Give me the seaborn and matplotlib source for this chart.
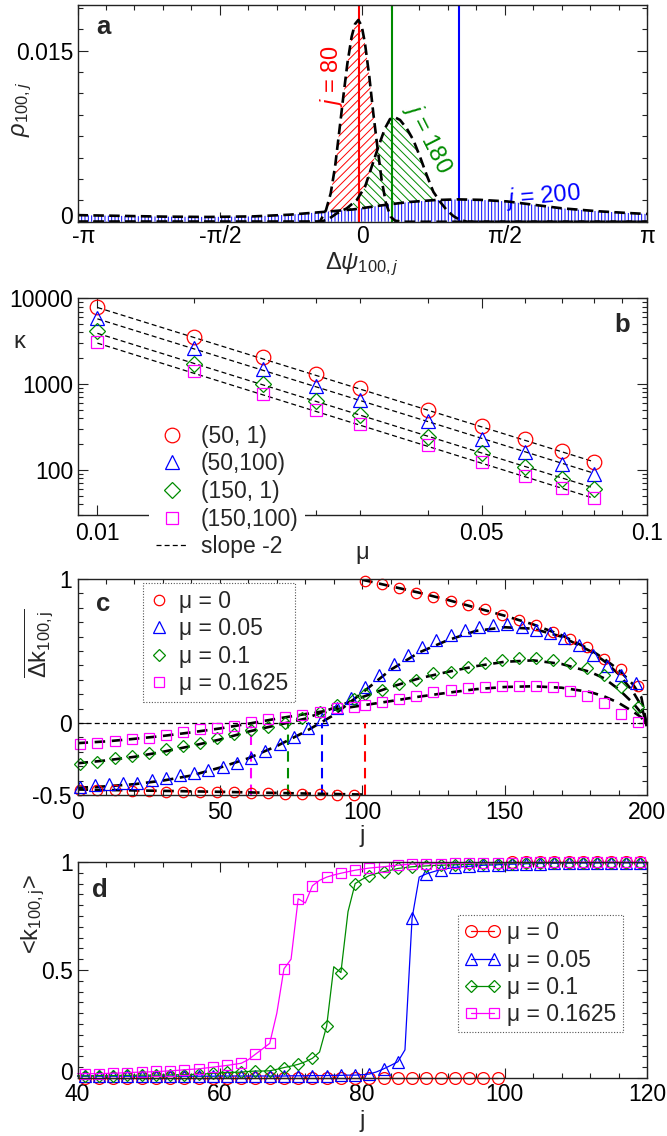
#%% Import library
import numpy as np
import seaborn as sns
from matplotlib import pyplot as plt
from matplotlib.lines import Line2D
from matplotlib.ticker import FixedLocator, MultipleLocator, NullFormatter, LogLocator
from matplotlib.transforms import ScaledTranslation

#%% Data - panel a (density of phase differences)
psi_red = [-3.1416, -0.55, -0.466, -0.400, -0.348, -0.300, -0.256, -0.209, -0.164, -0.117,
           -0.080, -0.043, -0.006, 0.030, 0.078, 0.122, 0.167, 0.214, 0.262, 0.314, 0.362,
           0.45, 3.1416]
rho_red = [0, 0, 0.00002, 0.00102, 0.00249, 0.00482, 0.00775, 0.01096, 0.01388, 0.01622,
           0.01733, 0.01769, 0.01716, 0.01564, 0.01272, 0.00950, 0.00658, 0.00365, 0.00161,
           0.00044, 0.00009, 0, 0]
psi_green = [-3.1416, -0.45, -0.36, -0.282, -0.172, -0.061, 0.031, 0.104, 0.178, 0.251,
             0.306, 0.361, 0.417, 0.490, 0.564, 0.637, 0.711, 0.784, 0.858, 0.932, 1.005,
             1.079, 1.16, 3.1416]
rho_green = [0, 0, 0.00030, 0.00073, 0.00117, 0.00190, 0.00307, 0.00482, 0.00658, 0.00819,
             0.00900, 0.00915, 0.00892, 0.00819, 0.00716, 0.00570, 0.00409, 0.00263, 0.00176,
             0.00102, 0.00050, 0.00015, 0, 0]
psi_blue = [-3.1416, -2.7, -2.2, -1.7, -1.2, -0.8, -0.4, -0.1, 0.2, 0.5, 0.8, 1.05, 1.3,
            1.6, 1.9, 2.2, 2.6, 2.9, 3.1416]
rho_blue = [0.00058, 0.00052, 0.00045, 0.00042, 0.00047, 0.00062, 0.00088, 0.00108, 0.00142,
            0.00172, 0.00190, 0.00196, 0.00192, 0.00178, 0.00148, 0.00118, 0.00092, 0.00078,
            0.00068]
psi_mean = [-0.036, 0.332, 1.067]
labels_a = ['$j$ = 80', '$j$ = 180', '$j$ = 200']

#%% Data - panel b (kappa vs mu)
mu_b = [0.01, 0.015, 0.02, 0.025, 0.03, 0.04, 0.05, 0.06, 0.07, 0.08]
kappa_50_1 = [8000, 3570, 2090, 1300, 890, 506, 327, 228, 167, 124]
kappa_50_100 = [5850, 2660, 1500, 955, 660, 373, 232, 163, 116, 89]
kappa_150_1 = [4100, 1710, 1000, 633, 434, 243, 157, 108, 79, 60]
kappa_150_100 = [3060, 1420, 777, 497, 347, 194, 124, 85, 62, 47]
mu_fit = [0.01, 0.08]
fit_50_1 = [7800, 125]
fit_50_100 = [5750, 92]
fit_150_1 = [3900, 62]
fit_150_100 = [3000, 47]
labels_b = ['(50, 1)', '(50,100)', '(150, 1)', '(150,100)', 'slope -2']

#%% Data - panel c (mean link change)
j_c_lo = [1, 7, 13, 19, 25, 31, 37, 43, 49, 55, 61, 67, 73, 79, 85, 91, 97]
j_c_hi = [101, 107, 113, 119, 125, 131, 137, 143, 149, 155, 161, 167, 173, 179, 185, 191, 197]
j_c_blue = [1, 6, 11, 16, 21, 26, 31, 36, 41, 46, 51, 56, 61, 66, 71, 76, 81, 86, 91, 96,
            101, 106, 111, 116, 121, 126, 131, 136, 141, 146, 151, 156, 161, 166, 171, 176,
            181, 186, 191, 196]
dk_mu0_lo = [-0.465, -0.465, -0.468, -0.472, -0.472, -0.477, -0.477, -0.477, -0.481, -0.481,
             -0.488, -0.488, -0.493, -0.493, -0.495, -0.497, -0.500]
dk_mu0_hi = [0.985, 0.962, 0.935, 0.905, 0.875, 0.845, 0.818, 0.79, 0.752, 0.715, 0.68,
             0.635, 0.585, 0.525, 0.445, 0.375, 0.26]
dk_mu005 = [-0.442, -0.428, -0.426, -0.419, -0.415, -0.396, -0.380, -0.361, -0.350, -0.326,
            -0.305, -0.275, -0.241, -0.195, -0.145, -0.095, -0.032, 0.028, 0.102, 0.176,
            0.252, 0.333, 0.407, 0.472, 0.530, 0.576, 0.611, 0.646, 0.669, 0.681, 0.685,
            0.665, 0.645, 0.625, 0.59, 0.545, 0.47, 0.395, 0.33, 0.28]
dk_mu01 = [-0.287, -0.273, -0.245, -0.229, -0.211, -0.181, -0.157, -0.141, -0.106, -0.079,
           -0.049, -0.025, -0.002, 0.037, 0.079, 0.125, 0.167, 0.199, 0.229, 0.269, 0.299,
           0.345, 0.356, 0.391, 0.414, 0.437, 0.45, 0.45, 0.44, 0.42, 0.385, 0.335, 0.25, 0.11]
dk_mu01625 = [-0.148, -0.141, -0.125, -0.111, -0.102, -0.083, -0.060, -0.042, -0.032, -0.019,
              0.009, 0.028, 0.044, 0.056, 0.079, 0.102, 0.113, 0.125, 0.148, 0.167, 0.19,
              0.213, 0.229, 0.241, 0.252, 0.259, 0.26, 0.26, 0.25, 0.22, 0.19, 0.14, 0.065, 0.01]
# theory curves (black dashed)
j_th = [0, 10, 20, 30, 40, 50, 60, 70, 80, 90, 100, 110, 120, 130, 140, 150, 160, 170, 180,
        185, 190, 195, 198, 200]
th_mu005 = [-0.45, -0.44, -0.425, -0.40, -0.365, -0.31, -0.245, -0.16, -0.06, 0.055, 0.21,
            0.37, 0.49, 0.575, 0.64, 0.665, 0.655, 0.60, 0.50, 0.43, 0.34, 0.22, 0.12, -0.02]
th_mu01 = [-0.28, -0.26, -0.235, -0.20, -0.16, -0.115, -0.06, -0.015, 0.03, 0.105, 0.18, 0.25,
           0.31, 0.355, 0.395, 0.425, 0.435, 0.41, 0.355, 0.31, 0.235, 0.14, 0.07, -0.02]
th_mu01625 = [-0.14, -0.128, -0.11, -0.09, -0.065, -0.038, -0.005, 0.03, 0.062, 0.092, 0.122,
              0.152, 0.183, 0.21, 0.235, 0.25, 0.255, 0.245, 0.215, 0.185, 0.14, 0.08, 0.04, -0.02]
j_th_mu0_lo = [0, 25, 50, 75, 100]
th_mu0_lo = [-0.462, -0.47, -0.478, -0.488, -0.497]
j_th_mu0_hi = [100, 110, 120, 130, 140, 150, 160, 170, 180, 185, 190, 195, 198, 200]
th_mu0_hi = [0.995, 0.95, 0.905, 0.855, 0.80, 0.745, 0.685, 0.61, 0.51, 0.445, 0.37, 0.27,
             0.18, -0.02]
j_cross = [61, 74, 86, 101]
labels_mu = ['μ = 0', 'μ = 0.05', 'μ = 0.1', 'μ = 0.1625']

#%% Data - panel d (mean link state)
j_d = np.arange(40, 121)
k_mu0_lo_j = [41, 43, 45, 47, 49, 51, 53, 55, 57, 59, 61, 63, 65, 67, 69, 71, 73, 75, 77, 79,
              81, 83, 85, 87, 89, 91, 93, 95, 97, 99]
k_mu0_lo = [0.0] * 30
k_mu0_hi_j = [101, 103, 105, 107, 109, 111, 113, 115, 117, 119]
k_mu0_hi = [1.0] * 10
k_mu005 = [0.008, 0.008, 0.008, 0.008, 0.008, 0.008, 0.008, 0.008, 0.008, 0.008,
           0.008, 0.008, 0.008, 0.008, 0.008, 0.008, 0.008, 0.008, 0.008, 0.008,
           0.009, 0.009, 0.009, 0.009, 0.009, 0.009, 0.009, 0.009, 0.009, 0.009,
           0.010, 0.010, 0.010, 0.011, 0.011, 0.011, 0.012, 0.012, 0.013, 0.013,
           0.015, 0.018, 0.028, 0.042, 0.058, 0.075, 0.130, 0.740, 0.930, 0.945,
           0.955, 0.965, 0.970, 0.975, 0.978, 0.980, 0.982, 0.985, 0.986, 0.987,
           0.990, 0.990, 0.991, 0.992, 0.993, 0.993, 0.994, 0.994, 0.995, 0.995,
           0.996, 0.996, 0.996, 0.996, 0.997, 0.997, 0.997, 0.997, 0.997, 0.997, 0.997]
k_mu01 = [0.010, 0.010, 0.010, 0.011, 0.011, 0.011, 0.012, 0.012, 0.012, 0.013,
          0.013, 0.013, 0.014, 0.014, 0.015, 0.015, 0.016, 0.017, 0.019, 0.022,
          0.024, 0.026, 0.026, 0.027, 0.030, 0.032, 0.032, 0.033, 0.040, 0.048,
          0.055, 0.063, 0.075, 0.091, 0.120, 0.240, 0.515, 0.488, 0.770, 0.900,
          0.920, 0.937, 0.947, 0.955, 0.962, 0.970, 0.974, 0.978, 0.980, 0.982,
          0.984, 0.985, 0.986, 0.987, 0.988, 0.989, 0.990, 0.991, 0.991, 0.992,
          0.993, 0.993, 0.994, 0.994, 0.995, 0.995, 0.995, 0.996, 0.996, 0.996,
          0.996, 0.997, 0.997, 0.997, 0.997, 0.997, 0.997, 0.997, 0.997, 0.997, 0.997]
k_mu01625 = [0.020, 0.020, 0.020, 0.020, 0.021, 0.022, 0.023, 0.025, 0.026, 0.027,
             0.028, 0.030, 0.031, 0.033, 0.035, 0.038, 0.040, 0.042, 0.046, 0.050,
             0.054, 0.058, 0.063, 0.068, 0.085, 0.110, 0.135, 0.160, 0.300, 0.505,
             0.550, 0.830, 0.810, 0.890, 0.915, 0.930, 0.940, 0.948, 0.955, 0.962,
             0.967, 0.972, 0.975, 0.978, 0.982, 0.985, 0.988, 0.990, 0.991, 0.992,
             0.993, 0.993, 0.994, 0.994, 0.995, 0.995, 0.996, 0.996, 0.996, 0.997,
             0.997, 0.997, 0.997, 0.998, 0.998, 0.998, 0.998, 0.998, 0.998, 0.998,
             0.999, 0.999, 0.999, 0.999, 0.999, 0.999, 0.999, 0.999, 0.999, 0.999, 0.999]

#%% Style
sns.set_theme(style='ticks')
plt.rcParams['font.family'] = ['Liberation Sans', 'DejaVu Sans']
plt.rcParams['mathtext.fontset'] = 'custom'
plt.rcParams['mathtext.rm'] = 'Liberation Sans'
plt.rcParams['mathtext.it'] = 'Liberation Sans:italic'
plt.rcParams['mathtext.bf'] = 'Liberation Sans:bold'
plt.rcParams['hatch.linewidth'] = 0.7
plt.rcParams['axes.linewidth'] = 1.0
plt.rcParams['axes.edgecolor'] = '#222222'

FS = 16.5
LFS = 17
RED, BLUE, GREEN, MAGENTA = '#ff0000', '#0000ff', '#008b00', '#ff00ff'
COLORS = [RED, BLUE, GREEN, MAGENTA]
MARKERS = ['o', '^', 'D', 's']


def style_ax(ax, xpad=3, ypad=3):
    ax.tick_params(which='both', direction='in', top=True, right=True,
                   labelsize=FS, width=0.8, colors='#222222', labelcolor='black')
    ax.tick_params(which='major', length=7)
    ax.tick_params(which='minor', length=3.5)
    ax.tick_params(axis='x', pad=xpad)
    ax.tick_params(axis='y', pad=ypad)


def shift_label(label, dx, dy):
    # nudge a tick label by (dx, dy) pixels
    label.set_transform(label.get_transform() +
                        ScaledTranslation(dx / 100, dy / 100, fig.dpi_scale_trans))


def dashed_black(ax, x, y, lw=1.8, dash=(4, 2)):
    sns.lineplot(x=x, y=y, ax=ax, color='black', lw=lw, linestyle=(0, dash),
                 zorder=4, sort=False)


def open_markers(ax, x, y, color, marker, ms, zorder=5):
    sns.lineplot(x=x, y=y, ax=ax, linestyle='none', marker=marker, markersize=ms,
                 markerfacecolor='none', markeredgecolor=color, markeredgewidth=0.9,
                 color=color, clip_on=False, zorder=zorder, sort=False)


def dotted_legend(leg):
    leg.get_frame().set_linestyle((0, (1, 1.5)))
    leg.get_frame().set_linewidth(0.8)
    leg.set_zorder(10)


fig = plt.figure(figsize=(6.67, 11.36), dpi=100)
L, W = 0.1162, 0.8538
ax_a = fig.add_axes([L, 0.8048, W, 0.1908])
ax_b = fig.add_axes([L, 0.5467, W, 0.1908])
ax_c = fig.add_axes([L, 0.3002, W, 0.1901])
ax_d = fig.add_axes([L, 0.0511, W, 0.1901])

#%% Panel a
hatches = ['////', '\\\\\\\\', '|||||']
curves = [(psi_red, rho_red), (psi_green, rho_green), (psi_blue, rho_blue)]
colors_a = [RED, GREEN, BLUE]
for (px_, py_), c, h in zip(curves, colors_a, hatches):
    ax_a.fill_between(px_, 0, py_, facecolor='white', edgecolor=c, hatch=h, linewidth=0,
                      zorder=2)
for m, c in zip(psi_mean, colors_a):
    ax_a.axvline(m, color=c, lw=1.5, zorder=3)
for px_, py_ in curves:
    dashed_black(ax_a, px_, py_, lw=1.9, dash=(4, 2))

ax_a.text(-0.337, 0.01277, labels_a[0], color=RED, fontsize=LFS, rotation=90,
          ha='center', va='center')
ax_a.text(0.725, 0.00734, labels_a[1], color=GREEN, fontsize=LFS, rotation=-63,
          ha='center', va='center', rotation_mode='anchor')
ax_a.text(1.994, 0.00225, labels_a[2], color=BLUE, fontsize=LFS, rotation=5,
          ha='center', va='center')

ax_a.set_xlim(-np.pi, np.pi)
ax_a.set_ylim(0, 0.019)
ax_a.xaxis.set_major_locator(FixedLocator([-np.pi, -np.pi / 2, 0, np.pi / 2, np.pi]))
ax_a.set_xticklabels(['-π', '-π/2', '0', 'π/2', 'π'])
ax_a.xaxis.set_minor_locator(MultipleLocator(np.pi / 10))
ax_a.yaxis.set_major_locator(FixedLocator([0, 0.015]))
ax_a.set_yticklabels(['0', '0.015'])
ax_a.yaxis.set_minor_locator(MultipleLocator(0.001875))
style_ax(ax_a, xpad=2.5, ypad=3)
ax_a.set_xlabel(r'$\Delta\psi_{\mathit{100,j}}$', fontsize=LFS)
ax_a.xaxis.set_label_coords(0.5, -0.135)
ax_a.set_ylabel(r'$\rho_{\mathit{100,j}}$', fontsize=LFS)
ax_a.yaxis.set_label_coords(-0.076, 0.52)
ax_a.text(0.045, 0.9, 'a', transform=ax_a.transAxes, fontsize=18.5, fontweight='bold',
          ha='center', va='center')

#%% Panel b
series_b = [kappa_50_1, kappa_50_100, kappa_150_1, kappa_150_100]
fits_b = [fit_50_1, fit_50_100, fit_150_1, fit_150_100]
ms_b = [10.5, 10.5, 8, 8.5]
for f in fits_b:
    sns.lineplot(x=mu_fit, y=f, ax=ax_b, color='black', lw=0.9, linestyle=(0, (4, 2.5)),
                 zorder=3, sort=False)
for s, c, m, ms in zip(series_b, COLORS, MARKERS, ms_b):
    open_markers(ax_b, mu_b, s, c, m, ms)
ax_b.set_xscale('log')
ax_b.set_yscale('log')
ax_b.set_xlim(0.0092, 0.1)
ax_b.set_ylim(30, 10000)
ax_b.xaxis.set_major_locator(FixedLocator([0.01, 0.05, 0.1]))
ax_b.set_xticklabels(['0.01', '0.05', '0.1'])
ax_b.xaxis.set_minor_locator(FixedLocator([0.015, 0.02, 0.025, 0.03, 0.04, 0.06, 0.07,
                                           0.08, 0.09]))
ax_b.xaxis.set_minor_formatter(NullFormatter())
ax_b.yaxis.set_major_locator(FixedLocator([100, 1000, 10000]))
ax_b.set_yticklabels(['100', '1000', '10000'])
ax_b.yaxis.set_minor_locator(LogLocator(base=10, subs=np.arange(2, 10)))
ax_b.yaxis.set_minor_formatter(NullFormatter())
style_ax(ax_b, xpad=5, ypad=3)
ax_b.set_xlabel('μ', fontsize=LFS)
ax_b.xaxis.set_label_coords(0.5, -0.125)
ax_b.set_ylabel('κ', fontsize=LFS, rotation=0, ha='center', va='center')
ax_b.yaxis.set_label_coords(-0.103, 0.80)
ax_b.text(0.957, 0.875, 'b', transform=ax_b.transAxes, fontsize=18.5, fontweight='bold',
          ha='center', va='center')
handles_b = [Line2D([], [], ls='none', marker=m, ms=ms, mfc='none', mec=c, mew=0.9)
             for c, m, ms in zip(COLORS, MARKERS, ms_b)]
handles_b.append(Line2D([], [], color='black', lw=0.9, ls=(0, (4, 2.5))))
leg_b = ax_b.legend(handles_b, labels_b, loc='upper left',
                    bbox_to_anchor=(149 / 667, 1 - 418 / 1136),
                    bbox_transform=fig.transFigure, frameon=True, fancybox=False,
                    facecolor='white', edgecolor='none', framealpha=1, fontsize=FS,
                    handlelength=1.4, handletextpad=0.55, labelspacing=0.2,
                    borderpad=0.3, borderaxespad=0)
leg_b.set_zorder(10)

#%% Panel c
ax_c.axhline(0, color='black', lw=0.9, linestyle=(0, (4, 2.5)), zorder=1)
for jx, c in zip(j_cross, [MAGENTA, GREEN, BLUE, RED]):
    ax_c.vlines(jx, -0.5, 0, color=c, lw=1.5, linestyles=[(0, (5, 3))], zorder=2)
dashed_black(ax_c, j_th_mu0_lo, th_mu0_lo, lw=1.9, dash=(4, 2.5))
dashed_black(ax_c, j_th_mu0_hi, th_mu0_hi, lw=1.9, dash=(4, 2.5))
dashed_black(ax_c, j_th, th_mu005, lw=1.9, dash=(4, 2.5))
dashed_black(ax_c, j_th, th_mu01, lw=1.9, dash=(4, 2.5))
dashed_black(ax_c, j_th, th_mu01625, lw=1.9, dash=(4, 2.5))
ms_c = [7.5, 8.5, 6.5, 7.5]
open_markers(ax_c, j_c_lo, dk_mu0_lo, RED, 'o', ms_c[0])
open_markers(ax_c, j_c_hi, dk_mu0_hi, RED, 'o', ms_c[0])
open_markers(ax_c, j_c_blue, dk_mu005, BLUE, '^', ms_c[1])
open_markers(ax_c, j_c_lo + j_c_hi, dk_mu01, GREEN, 'D', ms_c[2])
open_markers(ax_c, j_c_lo + j_c_hi, dk_mu01625, MAGENTA, 's', ms_c[3])
ax_c.set_xlim(0, 200)
ax_c.set_ylim(-0.5, 1)
ax_c.xaxis.set_major_locator(MultipleLocator(50))
ax_c.xaxis.set_minor_locator(MultipleLocator(10))
ax_c.yaxis.set_major_locator(FixedLocator([-0.5, 0, 1]))
ax_c.set_yticklabels(['-0.5', '0', '1'])
ax_c.yaxis.set_minor_locator(MultipleLocator(0.1))
style_ax(ax_c, xpad=4.5, ypad=4)
ax_c.set_xlabel('j', fontsize=LFS)
ax_c.xaxis.set_label_coords(0.5, -0.14)
ax_c.set_ylabel(r'$\overline{\Delta\mathrm{k}_{\mathrm{100,j}}}$', fontsize=LFS)
ax_c.yaxis.set_label_coords(-0.04, 0.70)
ax_c.text(0.045, 0.885, 'c', transform=ax_c.transAxes, fontsize=18.5, fontweight='bold',
          ha='center', va='center')
handles_c = [Line2D([], [], ls='none', marker=m, ms=ms, mfc='none', mec=c, mew=0.9)
             for c, m, ms in zip(COLORS, MARKERS, ms_c)]
leg_c = ax_c.legend(handles_c, labels_mu, loc='upper left',
                    bbox_to_anchor=(142.7 / 667, 1 - 583 / 1136),
                    bbox_transform=fig.transFigure, frameon=True, fancybox=False,
                    facecolor='white', edgecolor='#555555', framealpha=1, fontsize=FS,
                    handlelength=0.8, handletextpad=0.5, labelspacing=0.19,
                    borderpad=0.3, borderaxespad=0)
dotted_legend(leg_c)

#%% Panel d
ms_d = [8.5, 8.5, 6.5, 7.5]
for jj, kk in [(k_mu0_lo_j, k_mu0_lo), (k_mu0_hi_j, k_mu0_hi)]:
    sns.lineplot(x=jj, y=kk, ax=ax_d, color=RED, lw=0.9, marker='o', markersize=ms_d[0],
                 markerfacecolor='none', markeredgecolor=RED, markeredgewidth=0.9,
                 clip_on=False, zorder=3, sort=False)
for kk, c, m, ms in zip([k_mu005, k_mu01, k_mu01625], COLORS[1:], MARKERS[1:], ms_d[1:]):
    sns.lineplot(x=j_d, y=kk, ax=ax_d, color=c, lw=0.9, marker=m, markersize=ms,
                 markevery=(1, 2), markerfacecolor='none', markeredgecolor=c,
                 markeredgewidth=0.9, clip_on=False, zorder=4, sort=False)
ax_d.set_xlim(40, 120)
ax_d.set_ylim(0, 1)
ax_d.xaxis.set_major_locator(MultipleLocator(20))
ax_d.xaxis.set_minor_locator(MultipleLocator(4))
ax_d.yaxis.set_major_locator(FixedLocator([0, 0.5, 1]))
ax_d.set_yticklabels(['0', '0.5', '1'])
ax_d.yaxis.set_minor_locator(MultipleLocator(0.05))
style_ax(ax_d, xpad=3.5, ypad=3.5)
ax_d.set_xlabel('j', fontsize=LFS)
ax_d.xaxis.set_label_coords(0.5, -0.15)
ax_d.set_ylabel(r'<k$_{\mathrm{100,j}}$>', fontsize=LFS)
ax_d.yaxis.set_label_coords(-0.054, 0.76)
ax_d.text(0.04, 0.87, 'd', transform=ax_d.transAxes, fontsize=18.5, fontweight='bold',
          ha='center', va='center')
handles_d = [Line2D([], [], color=c, lw=0.9, marker=m, ms=ms, mfc='none', mec=c, mew=0.9)
             for c, m, ms in zip(COLORS, MARKERS, ms_d)]
leg_d = ax_d.legend(handles_d, labels_mu, loc='upper left', numpoints=2,
                    bbox_to_anchor=(457.8 / 667, 1 - 915 / 1136),
                    bbox_transform=fig.transFigure, frameon=True, fancybox=False,
                    facecolor='white', edgecolor='#555555', framealpha=1, fontsize=FS,
                    handlelength=1.6, handletextpad=0.28, labelspacing=0.18,
                    borderpad=0.28, borderaxespad=0)
dotted_legend(leg_d)

for ax in [ax_a, ax_b, ax_c, ax_d]:
    for sp in ax.spines.values():
        sp.set_zorder(6)

# the corner labels of panels a and d sit very close, as in the original
for ax in [ax_a, ax_d]:
    shift_label(ax.yaxis.get_major_ticks()[0].label1, 0, 7)
    shift_label(ax.xaxis.get_major_ticks()[0].label1, 6, 0)

fig.savefig('out.png', dpi=100)
